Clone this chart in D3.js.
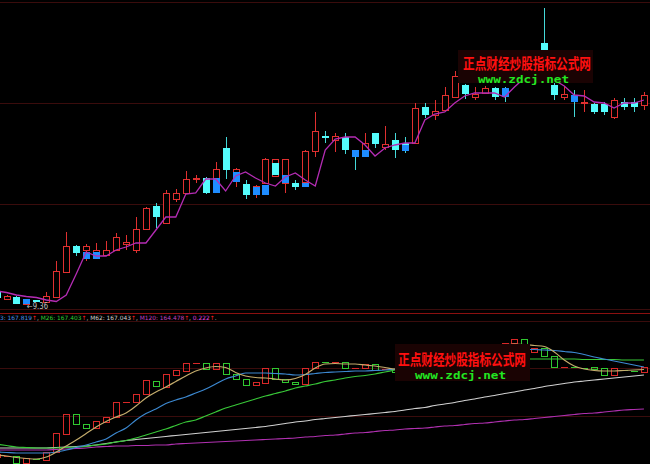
<!DOCTYPE html>
<html><head><meta charset="utf-8">
<script src="https://cdn.jsdelivr.net/npm/d3@7"></script>
<style>html,body{margin:0;padding:0;background:#000;overflow:hidden}</style>
</head><body><svg id="c" width="650" height="464"></svg>
<script>
// ---------- DATA ----------
// top panel candles: [open, high, low, close]
const candles = [
[9.50,9.51,9.42,9.43],[9.42,9.46,9.41,9.45],[9.44,9.45,9.37,9.37],[9.37,9.42,9.36,9.42],[9.41,9.41,9.39,9.39],
[9.39,9.49,9.38,9.45],[9.44,9.80,9.43,9.70],[9.69,10.09,9.68,9.95],[9.95,9.96,9.85,9.88],[9.91,9.97,9.80,9.95],
[9.88,9.98,9.82,9.91],[9.86,10.00,9.85,9.91],[9.91,10.08,9.90,10.04],[9.97,10.06,9.91,9.99],[9.91,10.24,9.88,10.12],
[10.12,10.34,10.11,10.33],[10.35,10.38,10.13,10.24],[10.18,10.51,10.17,10.48],[10.42,10.52,10.39,10.48],[10.48,10.70,10.47,10.62],
[10.62,10.66,10.58,10.63],[10.63,10.64,10.47,10.48],[10.49,10.79,10.48,10.72],[10.93,11.04,10.62,10.71],[10.69,10.73,10.54,10.72],
[10.57,10.61,10.42,10.46],[10.51,10.56,10.43,10.55],[10.58,10.83,10.58,10.82],[10.65,10.82,10.65,10.82],[10.58,10.82,10.48,10.82],
[10.58,10.61,10.51,10.54],[10.59,10.91,10.54,10.90],[10.90,11.29,10.84,11.10],[11.05,11.10,10.98,11.03],[11.01,11.08,10.89,11.05],
[11.04,11.08,10.87,10.91],[10.91,10.91,10.71,10.84],[10.86,11.08,10.84,10.98],[11.08,11.08,10.93,10.97],[10.94,11.15,10.91,10.97],
[11.01,11.08,10.83,10.91],[10.98,11.04,10.88,10.90],[10.98,11.38,10.98,11.33],[11.34,11.38,11.23,11.26],[11.26,11.41,11.21,11.30],
[11.31,11.54,11.30,11.46],[11.44,11.70,11.43,11.65],[11.56,11.57,11.42,11.47],[11.44,11.54,11.41,11.47],[11.48,11.55,11.47,11.53],
[11.53,11.54,11.41,11.44],[11.53,11.54,11.39,11.44],[11.59,11.74,11.58,11.71],[11.70,11.82,11.66,11.78],[11.78,11.80,11.56,11.72],
[11.98,12.33,11.70,11.91],[11.56,11.58,11.41,11.46],[11.44,11.55,11.41,11.47],[11.46,11.51,11.24,11.39],[11.38,11.51,11.29,11.39],
[11.37,11.38,11.27,11.29],[11.37,11.39,11.26,11.29],[11.24,11.43,11.22,11.41],[11.39,11.43,11.31,11.34],[11.39,11.43,11.29,11.34],
[11.36,11.49,11.31,11.46]
];
// trailing line (purple) in the top panel
const stopLine = [9.50,9.485,9.46,9.445,9.435,9.41,9.395,9.46,9.67,9.89,
9.85,9.85,9.91,9.94,9.98,9.98,10.11,10.24,10.24,10.47,
10.48,10.62,10.62,10.50,10.65,10.69,10.63,10.58,10.55,10.64,
10.68,10.61,10.55,10.91,11.02,11.04,11.04,10.96,10.85,10.93,
10.96,10.98,10.98,11.21,11.27,11.29,11.38,11.45,11.48,11.48,
11.48,11.44,11.54,11.63,11.69,11.69,11.61,11.55,11.46,11.45,
11.39,11.38,11.33,11.38,11.38,11.41];
// extra filled bars: [index, top, bottom]
const blueBars = [[3,9.42,9.37],[9,9.89,9.82],[10,9.89,9.82],[22,10.63,10.48],[24,10.69,10.59],[26,10.54,10.46],
[27,10.56,10.46],[29,10.66,10.58],[31,10.58,10.54],[36,10.91,10.84],[37,10.91,10.84],[41,10.96,10.90],[51,11.53,11.44],[58,11.46,11.39]];
const cyanBars = [[28,10.78,10.66]];
const lowMark = {index:3, text:"9.36"};

// lower panel boxes: [open, close]
const subBoxes = [
[160.62,160.86],[160.70,160.70],[160.70,160.14],[160.14,160.54],[160.46,160.45],[160.38,161.02],[161.02,162.54],[162.46,164.06],[164.06,163.26],[163.26,162.94],
[162.94,163.50],[163.42,163.82],[163.82,165.02],[165.02,165.02],[165.02,165.66],[165.66,166.78],[166.70,166.30],[166.22,167.26],[167.18,167.58],[167.50,168.14],
[168.14,168.14],[168.14,167.66],[167.66,168.14],[168.14,167.26],[167.26,166.86],[166.86,166.38],[166.38,166.62],[166.54,167.74],[167.74,166.86],[166.86,166.62],
[166.62,166.46],[166.46,167.74],[167.74,168.22],[168.22,168.20],[168.20,168.22],[168.22,167.74],[167.74,167.74],[167.74,168.06],[168.06,167.58],[167.66,167.66],
[167.66,167.42],[167.74,167.50],[167.50,168.70],[168.70,168.38],[168.38,168.54],[168.46,169.02],[168.94,169.50],[169.50,169.18],[169.18,169.20],[169.18,169.34],
[169.34,169.10],[169.74,169.74],[169.74,170.06],[170.06,169.58],[169.02,169.34],[169.34,168.70],[168.70,167.82],[167.82,167.82],[167.84,167.82],[167.76,167.74],
[167.82,167.66],[167.74,167.18],[167.18,167.74],[167.60,167.58],[167.52,167.50],[167.42,167.82]
];
const maShort = [160.78,160.70,160.58,160.50,160.46,160.62,161.02,161.50,161.98,162.50,
163.02,163.46,163.82,164.14,164.70,165.34,165.82,166.22,166.66,167.10,
167.50,167.74,167.86,167.78,167.38,167.10,166.98,166.94,166.86,166.78,
166.90,167.22,167.74,168.06,168.10,168.06,168.06,167.98,167.90,167.78,
167.66,167.74,167.90,168.14,168.38,168.62,168.94,169.18,169.34,169.42,
169.50,169.58,169.66,169.62,169.54,169.46,169.02,168.38,167.90,167.66,
167.54,167.50,167.50,167.54,167.58,167.62];
const maBlue = [161.02,160.98,160.94,160.94,160.94,160.94,161.02,161.18,161.38,161.58,
161.82,162.06,162.54,162.94,163.58,164.10,164.46,164.90,165.18,165.42,
165.74,166.06,166.46,166.86,167.10,167.34,167.34,167.34,167.30,167.26,
167.18,167.22,167.30,167.38,167.42,167.46,167.50,167.50,167.54,167.58,
167.66,167.74,167.82,167.94,168.06,168.22,168.38,168.54,168.70,168.86,
168.98,169.10,169.18,169.22,169.22,169.18,169.14,169.06,168.98,168.82,
168.62,168.46,168.30,168.14,167.98,167.82];
const maGreen = [161.66,161.54,161.42,161.38,161.34,161.34,161.34,161.38,161.42,161.46,
161.58,161.66,161.82,161.94,162.14,162.38,162.62,162.86,163.14,163.42,
163.58,163.90,164.22,164.54,164.78,165.02,165.26,165.50,165.70,165.90,
166.14,166.30,166.46,166.66,166.78,166.94,167.06,167.14,167.26,167.42,
167.58,167.74,167.86,167.98,168.06,168.14,168.22,168.30,168.34,168.38,
168.42,168.46,168.46,168.46,168.46,168.46,168.46,168.46,168.46,168.42,
168.42,168.42,168.42,168.38,168.38,168.38];
const maWhite = [161.34,161.34,161.34,161.34,161.34,161.34,161.38,161.42,161.46,161.50,
161.58,161.70,161.82,161.94,162.02,162.10,162.18,162.26,162.34,162.42,
162.50,162.58,162.66,162.74,162.82,162.90,162.98,163.06,163.18,163.30,
163.42,163.50,163.62,163.70,163.78,163.86,163.94,164.02,164.10,164.18,
164.26,164.38,164.50,164.58,164.74,164.86,164.98,165.14,165.26,165.42,
165.54,165.70,165.82,165.98,166.10,166.26,166.38,166.50,166.62,166.70,
166.78,166.86,166.94,167.02,167.10,167.18];
const maPurple = [161.18,161.18,161.18,161.18,161.18,161.18,161.22,161.26,161.30,161.34,
161.42,161.46,161.50,161.50,161.54,161.54,161.58,161.58,161.66,161.70,
161.74,161.78,161.82,161.86,161.90,161.94,161.98,162.02,162.06,162.10,
162.14,162.22,162.26,162.34,162.38,162.46,162.54,162.58,162.66,162.74,
162.78,162.86,162.90,162.94,163.02,163.10,163.14,163.22,163.30,163.34,
163.42,163.50,163.58,163.62,163.70,163.78,163.86,163.94,164.02,164.10,
164.14,164.22,164.30,164.38,164.42,164.46];
const headerItems = [
  ["3: 167.819","#4a90e8"],["↑","#ff2020"],[", ","#c8c8c8"],
  ["M26: 167.403","#30cc30"],["↑","#ff2020"],[", ","#c8c8c8"],
  ["M62: 167.043","#d0d0d0"],["↑","#ff2020"],[", ","#c8c8c8"],
  ["M120: 164.478","#c040c0"],["↑","#ff2020"],[", ","#c8c8c8"],
  ["0.222","#e040e0"],["↑","#ff2020"],[".","#c8c8c8"]
];
const watermarkCN = "正点财经炒股指标公式网";
const watermarkURL = "www.zdcj.net";

// ---------- DRAW ----------
const svg = d3.select("#c");
svg.append("rect").attr("width",650).attr("height",464).attr("fill","#000");

const RED="#e03030", CYAN="#54fcfc", BLUE="#1e8cff";
const x = d3.scaleLinear().domain([0,65]).range([-3.46,643.94]);
const yT = d3.scaleLinear().domain([9.36,12.36]).range([305,5]);
const yB = d3.scaleLinear().domain([160,170]).range([464.75,339.75]);

// panel lines
const grid = svg.append("g").attr("shape-rendering","crispEdges");
[[2,"#3a0c0c"],[103,"#3a0c0c"],[204,"#3a0c0c"],[309,"#3a0c0c"],[313,"#8a1010"],[321,"#3a0c0c"],[368,"#3a0c0c"],[416,"#3a0c0c"]]
 .forEach(([y,c])=>grid.append("line").attr("x1",0).attr("x2",650).attr("y1",y+0.5).attr("y2",y+0.5).attr("stroke",c));

// top candles
const gT = svg.append("g").attr("shape-rendering","crispEdges");
candles.forEach((d,i)=>{
  const [o,h,l,c]=d, cx=Math.round(x(i)), up=c>=o;
  const col = up?RED:CYAN;
  gT.append("line").attr("x1",cx+0.5).attr("x2",cx+0.5).attr("y1",yT(h)).attr("y2",yT(l))
    .attr("stroke",up?RED:"#44d8d8");
  const top=Math.round(Math.min(yT(o),yT(c))), bot=Math.round(Math.max(yT(o),yT(c)));
  if(up){
    gT.append("rect").attr("x",cx-2.5).attr("y",top+0.5).attr("width",6).attr("height",Math.max(1,bot-top))
      .attr("fill","#000").attr("stroke",col);
  } else {
    gT.append("rect").attr("x",cx-3).attr("y",top).attr("width",7).attr("height",Math.max(1,bot-top)).attr("fill",col);
  }
});
function bars(list,color){
  list.forEach(([i,t,b])=>{
    const cx=Math.round(x(i)), top=Math.round(yT(t)), bot=Math.round(yT(b));
    gT.append("rect").attr("x",cx-3).attr("y",top).attr("width",7).attr("height",Math.max(1,bot-top)).attr("fill",color);
  });
}
bars(blueBars,BLUE); bars(cyanBars,CYAN);

svg.append("path").datum(stopLine)
  .attr("d",d3.line().x((d,i)=>x(i)).y(d=>yT(d)))
  .attr("fill","none").attr("stroke","#b42cb4").attr("stroke-width",1.3);

// low label
const lm = candles[lowMark.index];
svg.append("text").attr("x",x(lowMark.index)+0.6).attr("y",yT(lm[2])+3.5)
  .attr("font-family","DejaVu Sans").attr("font-size",8).attr("fill","#c0c0c0")
  .attr("textLength",21).attr("lengthAdjust","spacingAndGlyphs").text("←"+lowMark.text);

// watermark
function watermark(bx,by,bw,bh,tx,ty,ux,uy){
  svg.append("rect").attr("x",bx).attr("y",by).attr("width",bw).attr("height",bh).attr("fill","#1a0303");
  svg.append("text").attr("x",tx).attr("y",ty).attr("font-family","Noto Sans CJK SC").attr("font-weight","bold")
    .attr("font-size",15).attr("fill","#ff1010").attr("textLength",128).attr("lengthAdjust","spacingAndGlyphs").text(watermarkCN);
  svg.append("text").attr("x",ux).attr("y",uy).attr("font-family","DejaVu Sans Mono").attr("font-weight","bold")
    .attr("font-size",11).attr("fill","#22e622").attr("textLength",91).attr("lengthAdjust","spacingAndGlyphs").text(watermarkURL);
}
watermark(458,50,135,33,463,68.5,478,82.5);

// header: one text line with coloured runs, natural spacing
const hdr = svg.append("text").attr("x",0).attr("y",319.5).attr("font-family","DejaVu Sans").attr("font-size",5.9)
  .attr("xml:space","preserve").style("white-space","pre");
headerItems.forEach(([t,c])=>hdr.append("tspan").attr("fill",c).text(t));

// lower panel boxes
const gB = svg.append("g").attr("shape-rendering","crispEdges");
subBoxes.forEach(([o,c],i)=>{
  const cx=Math.round(x(i)), up=c>=o;
  const top=Math.round(Math.min(yB(o),yB(c))), bot=Math.round(Math.max(yB(o),yB(c)));
  const col= up?"#d82828":"#30c830";
  if(bot-top<2){
    gB.append("line").attr("x1",cx-3).attr("x2",cx+4).attr("y1",top+0.5).attr("y2",top+0.5).attr("stroke",col).attr("stroke-width",1.5);
  } else {
    gB.append("rect").attr("x",cx-2.5).attr("y",top+0.5).attr("width",6).attr("height",bot-top)
      .attr("fill","none").attr("stroke",col);
  }
});
const lineB = d3.line().x((d,i)=>x(i)).y(d=>yB(d)).curve(d3.curveMonotoneX);
[[maPurple,"#b030b0"],[maWhite,"#d0d0d0"],[maGreen,"#38c838"],[maBlue,"#3c88d0"],[maShort,"#c4ac6c"]]
 .forEach(([s,c])=>svg.append("path").datum(s).attr("d",lineB).attr("fill","none").attr("stroke",c).attr("stroke-width",1.2));

watermark(395,344,135,37,398,364.5,415,378.5);
</script></body></html>
